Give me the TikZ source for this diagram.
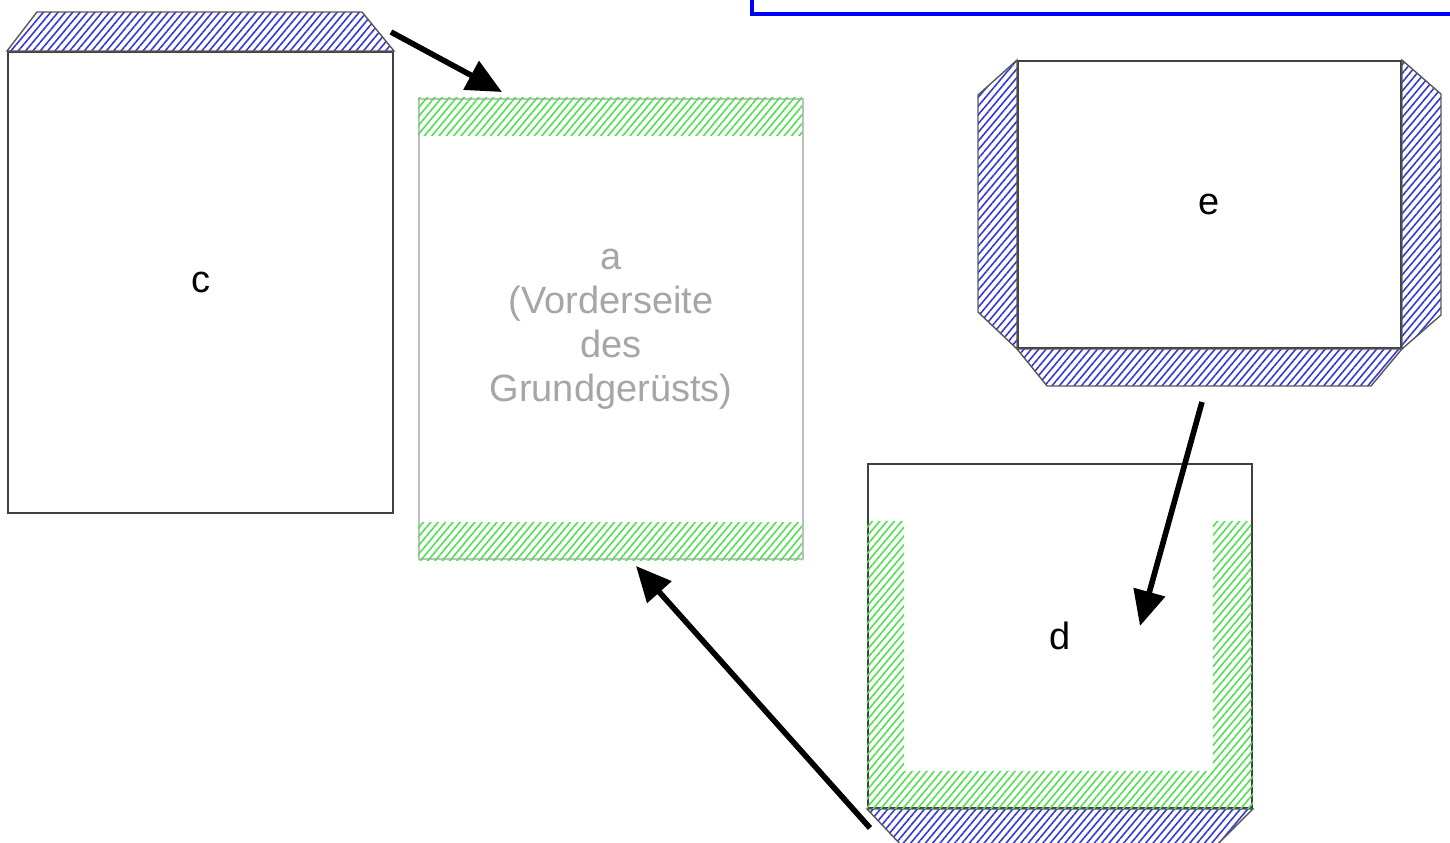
\documentclass[tikz,border=0pt]{standalone}
\usepackage{fontspec}
\setmainfont{Liberation Sans}
\usetikzlibrary{arrows.meta, patterns.meta}

\definecolor{hatchblue}{RGB}{55,55,215}
\definecolor{hatchgreen}{RGB}{80,225,80}

\tikzset{
  box/.style={draw=black!75, line width=0.5pt, fill=white, inner sep=0pt,
    font=\fontsize{10.8}{12.5}\selectfont},
  flap/.style={draw=black!65, line width=0.4pt,
    pattern={Lines[angle=50, distance=1.6pt, line width=0.45pt]}, pattern color=hatchblue},
  band/.style={pattern={Lines[angle=50, distance=1.6pt, line width=0.45pt]}, pattern color=hatchgreen},
  move/.style={-{Triangle[length=10pt, width=9pt]}, line width=1.6pt}
}

\begin{document}
\begin{tikzpicture}[x=0.01cm, y=-0.01cm]
\useasboundingbox (0,0) rectangle (1450,843);
% frame cut off at the top
\draw[blue, line width=1.4pt] (752,-20) -- (752,14) -- (1470,14);

\node[box, minimum width=3.85cm, minimum height=4.61cm] (c) at (200.5,282.5) {c};
\node[box, draw=black!25, text=black!35, align=center,
  minimum width=3.84cm, minimum height=4.6cm] (a) at (611,329) {a\\(Vorderseite\\des\\Grundgerüsts)};
\node[box, minimum width=3.83cm, minimum height=2.87cm] (e) at (1209.5,204.5) {e};
\node[box, minimum width=3.84cm, minimum height=3.44cm] (d) at (1060,636) {d};

% flaps
\draw[flap] (c.north west) -- ++(30,-39) -- ++(325,0) -- (c.north east) -- cycle;
\draw[flap] (e.north west) -- ++(-39,35) -- ++(0,217) -- (e.south west) -- cycle;
\draw[flap] (e.north east) -- ++(39,34) -- ++(0,221) -- (e.south east) -- cycle;
\draw[flap] (e.south west) -- ++(30,37) -- ++(324,0) -- (e.south east) -- cycle;
\draw[flap] (d.south west) -- ++(35,37) -- ++(314,0) -- (d.south east) -- cycle;

% glued bands
\fill[band] (a.north west) rectangle ++(384,38);
\fill[band] (a.south west) rectangle ++(384,-38);
\fill[band] (d.south west) -- ++(0,-288) -- ++(37,0) -- ++(0,250) -- ++(309,0)
  -- ++(0,-250) -- ++(38,0) -- (d.south east) -- cycle;

% arrows
\coordinate (c-out) at (391,32);
\coordinate (a-top) at (502,92);
\coordinate (e-out) at (1202,402);
\coordinate (d-in) at (1140,626);
\coordinate (d-out) at (870,828);
\coordinate (a-bot) at (636,566);
\draw[move] (c-out) -- (a-top);
\draw[move] (e-out) -- (d-in);
\draw[move] (d-out) -- (a-bot);
\end{tikzpicture}
\end{document}
